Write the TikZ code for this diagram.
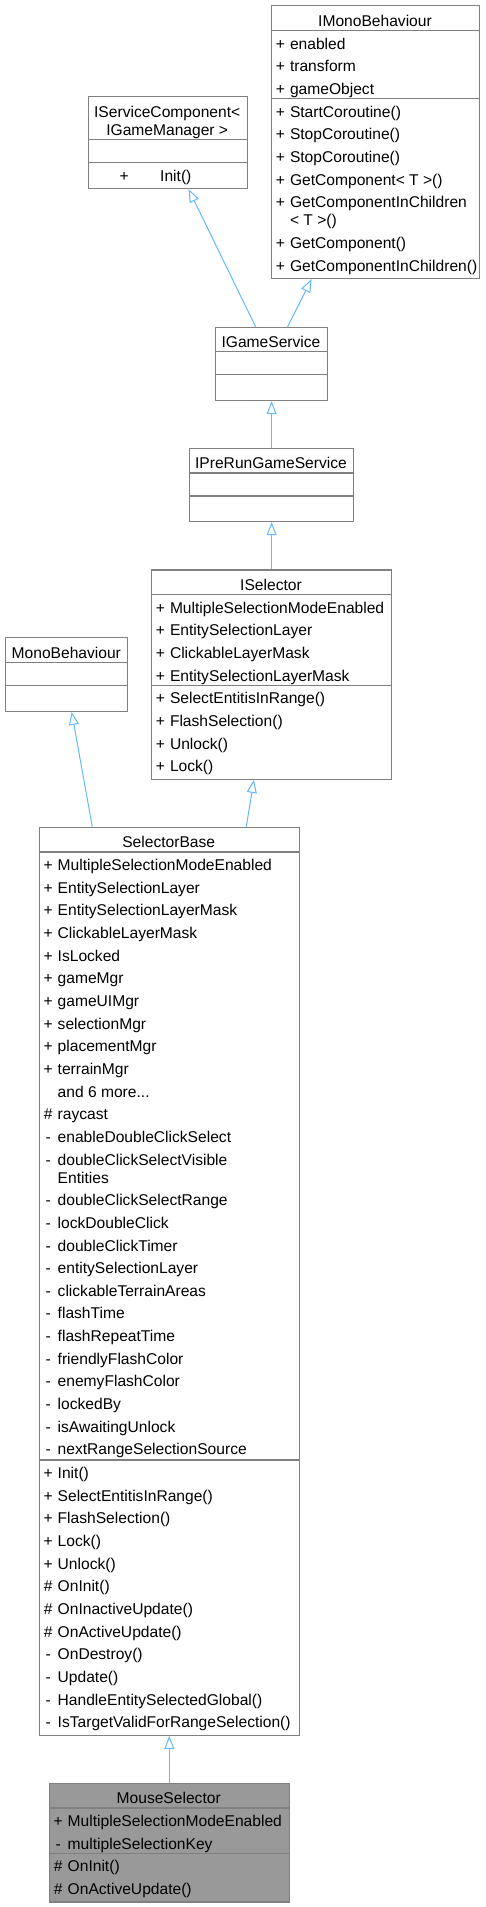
\documentclass[tikz,border=0pt]{standalone}
\usepackage{fontspec}
\setmainfont{Liberation Sans}
\usetikzlibrary{arrows.meta}
\definecolor{bordergray}{HTML}{808080}
\definecolor{edgeblue}{HTML}{63B8FF}
\definecolor{focusgray}{HTML}{999999}
\newcommand\fs{\fontsize{15.6}{18}\selectfont}
\newcommand\by[2]{#1+18.6+22.65*#2}
\newcommand\rw[5]{\node[pf] (#1p) at (#2+9.5,#3) {#4};\node[lb] (#1) at (#2+18.8,#3) {#5};}
\newcommand\rn[4]{\node[lb] (#1) at (#2+18.8,#3) {#4};}
\begin{document}
\begin{tikzpicture}[x=1pt,y=-1pt,
  box/.style={draw=bordergray, line width=1.2pt, rectangle, inner sep=0pt, anchor=north west},
  sepl/.style={draw=bordergray, line width=1.2pt},
  lb/.style={inner sep=0pt, anchor=base west, font=\fs},
  pf/.style={inner sep=0pt, anchor=base, font=\fs},
  ttl/.style={inner sep=0pt, anchor=base, font=\fs},
  inh/.style={draw=edgeblue, line width=1pt, -{Triangle[open, length=13pt, width=10pt]}}]
\useasboundingbox (0,0) rectangle (485,1907);

% ---------- IServiceComponent ----------
\node[box, minimum width=159pt, minimum height=92pt] (isc) at (87.7,96) {};
\draw[sepl] (87.7,139.7) -- (246.7,139.7);
\draw[sepl] (87.7,162.7) -- (246.7,162.7);
\node[ttl] (isc-t1) at (167.2,117.3) {IServiceComponent<};
\node[ttl] (isc-t2) at (167.2,135) {IGameManager >};
\node[pf] (isc-m1p) at (124.3,181.7) {+};
\node[lb] (isc-m1) at (160,181.7) {Init()};

% ---------- IMonoBehaviour ----------
\node[box, minimum width=208pt, minimum height=273pt] (imb) at (271,5) {};
\draw[sepl] (271,30.7) -- (479,30.7);
\draw[sepl] (271,98.7) -- (479,98.7);
\node[ttl] (imb-t) at (375,26.5) {IMonoBehaviour};
\rw{imb-a1}{271}{\by{30.7}{0}}{+}{enabled}
\rw{imb-a2}{271}{\by{30.7}{1}}{+}{transform}
\rw{imb-a3}{271}{\by{30.7}{2}}{+}{gameObject}
\rw{imb-m1}{271}{\by{98.7}{0}}{+}{StartCoroutine()}
\rw{imb-m2}{271}{\by{98.7}{1}}{+}{StopCoroutine()}
\rw{imb-m3}{271}{\by{98.7}{2}}{+}{StopCoroutine()}
\rw{imb-m4}{271}{\by{98.7}{3}}{+}{GetComponent< T >()}
\rw{imb-m5}{271}{\by{98.7}{4}}{+}{GetComponentInChildren}
\rn{imb-m5b}{271}{\by{98.7}{4}+18}{< T >()}
\rw{imb-m6}{271}{\by{98.7}{5}+18}{+}{GetComponent()}
\rw{imb-m7}{271}{\by{98.7}{6}+18}{+}{GetComponentInChildren()}

% ---------- IGameService ----------
\node[box, minimum width=112pt, minimum height=73.3pt] (igs) at (215,326.7) {};
\draw[sepl] (215,351.7) -- (327,351.7);
\draw[sepl] (215,374.7) -- (327,374.7);
\node[ttl] (igs-t) at (271,347.4) {IGameService};

% ---------- IPreRunGameService ----------
\node[box, minimum width=164pt, minimum height=73.3pt] (iprgs) at (189,447.7) {};
\draw[sepl] (189,473) -- (353,473);
\draw[sepl] (189,496) -- (353,496);
\node[ttl] (iprgs-t) at (271,468.7) {IPreRunGameService};

% ---------- ISelector ----------
\node[box, minimum width=240pt, minimum height=209.4pt] (isel) at (151,569.3) {};
\draw[sepl] (151,594.7) -- (391,594.7);
\draw[sepl] (151,685.3) -- (391,685.3);
\node[ttl] (isel-t) at (271,590.4) {ISelector};
\rw{isel-a1}{151}{\by{594.7}{0}}{+}{MultipleSelectionModeEnabled}
\rw{isel-a2}{151}{\by{594.7}{1}}{+}{EntitySelectionLayer}
\rw{isel-a3}{151}{\by{594.7}{2}}{+}{ClickableLayerMask}
\rw{isel-a4}{151}{\by{594.7}{3}}{+}{EntitySelectionLayerMask}
\rw{isel-m1}{151}{\by{685.3}{0}}{+}{SelectEntitisInRange()}
\rw{isel-m2}{151}{\by{685.3}{1}}{+}{FlashSelection()}
\rw{isel-m3}{151}{\by{685.3}{2}}{+}{Unlock()}
\rw{isel-m4}{151}{\by{685.3}{3}}{+}{Lock()}

% ---------- MonoBehaviour ----------
\node[box, minimum width=121.7pt, minimum height=73.7pt] (mb) at (5,637) {};
\draw[sepl] (5,662.3) -- (126.7,662.3);
\draw[sepl] (5,685.3) -- (126.7,685.3);
\node[ttl] (mb-t) at (66.3,658) {MonoBehaviour};

% ---------- SelectorBase ----------
\node[box, minimum width=260pt, minimum height=908pt] (sb) at (38.7,826.7) {};
\draw[sepl] (38.7,852) -- (298.7,852);
\draw[sepl] (38.7,1460) -- (298.7,1460);
\node[ttl] (sb-t) at (168.7,847.7) {SelectorBase};
\rw{sb-a0}{38.7}{\by{852}{0}}{+}{MultipleSelectionModeEnabled}
\rw{sb-a1}{38.7}{\by{852}{1}}{+}{EntitySelectionLayer}
\rw{sb-a2}{38.7}{\by{852}{2}}{+}{EntitySelectionLayerMask}
\rw{sb-a3}{38.7}{\by{852}{3}}{+}{ClickableLayerMask}
\rw{sb-a4}{38.7}{\by{852}{4}}{+}{IsLocked}
\rw{sb-a5}{38.7}{\by{852}{5}}{+}{gameMgr}
\rw{sb-a6}{38.7}{\by{852}{6}}{+}{gameUIMgr}
\rw{sb-a7}{38.7}{\by{852}{7}}{+}{selectionMgr}
\rw{sb-a8}{38.7}{\by{852}{8}}{+}{placementMgr}
\rw{sb-a9}{38.7}{\by{852}{9}}{+}{terrainMgr}
\rn{sb-a10}{38.7}{\by{852}{10}}{and 6 more...}
\rw{sb-a11}{38.7}{\by{852}{11}}{\#}{raycast}
\rw{sb-a12}{38.7}{\by{852}{12}}{-}{enableDoubleClickSelect}
\rw{sb-a13}{38.7}{\by{852}{13}}{-}{doubleClickSelectVisible}
\rn{sb-a13b}{38.7}{\by{852}{13}+18}{Entities}
\rw{sb-a14}{38.7}{\by{852}{14}+18}{-}{doubleClickSelectRange}
\rw{sb-a15}{38.7}{\by{852}{15}+18}{-}{lockDoubleClick}
\rw{sb-a16}{38.7}{\by{852}{16}+18}{-}{doubleClickTimer}
\rw{sb-a17}{38.7}{\by{852}{17}+18}{-}{entitySelectionLayer}
\rw{sb-a18}{38.7}{\by{852}{18}+18}{-}{clickableTerrainAreas}
\rw{sb-a19}{38.7}{\by{852}{19}+18}{-}{flashTime}
\rw{sb-a20}{38.7}{\by{852}{20}+18}{-}{flashRepeatTime}
\rw{sb-a21}{38.7}{\by{852}{21}+18}{-}{friendlyFlashColor}
\rw{sb-a22}{38.7}{\by{852}{22}+18}{-}{enemyFlashColor}
\rw{sb-a23}{38.7}{\by{852}{23}+18}{-}{lockedBy}
\rw{sb-a24}{38.7}{\by{852}{24}+18}{-}{isAwaitingUnlock}
\rw{sb-a25}{38.7}{\by{852}{25}+18}{-}{nextRangeSelectionSource}
\rw{sb-m0}{38.7}{\by{1460}{0}}{+}{Init()}
\rw{sb-m1}{38.7}{\by{1460}{1}}{+}{SelectEntitisInRange()}
\rw{sb-m2}{38.7}{\by{1460}{2}}{+}{FlashSelection()}
\rw{sb-m3}{38.7}{\by{1460}{3}}{+}{Lock()}
\rw{sb-m4}{38.7}{\by{1460}{4}}{+}{Unlock()}
\rw{sb-m5}{38.7}{\by{1460}{5}}{\#}{OnInit()}
\rw{sb-m6}{38.7}{\by{1460}{6}}{\#}{OnInactiveUpdate()}
\rw{sb-m7}{38.7}{\by{1460}{7}}{\#}{OnActiveUpdate()}
\rw{sb-m8}{38.7}{\by{1460}{8}}{-}{OnDestroy()}
\rw{sb-m9}{38.7}{\by{1460}{9}}{-}{Update()}
\rw{sb-m10}{38.7}{\by{1460}{10}}{-}{HandleEntitySelectedGlobal()}
\rw{sb-m11}{38.7}{\by{1460}{11}}{-}{IsTargetValidForRangeSelection()}

% ---------- MouseSelector ----------
\node[box, fill=focusgray, minimum width=240pt, minimum height=118.6pt] (ms) at (48.7,1782.7) {};
\draw[sepl] (48.7,1808) -- (288.7,1808);
\draw[sepl] (48.7,1853.3) -- (288.7,1853.3);
\node[ttl] (ms-t) at (168.7,1803.7) {MouseSelector};
\rw{ms-a1}{48.7}{\by{1808}{0}}{+}{MultipleSelectionModeEnabled}
\rw{ms-a2}{48.7}{\by{1808}{1}}{-}{multipleSelectionKey}
\rw{ms-m1}{48.7}{\by{1853.3}{0}}{\#}{OnInit()}
\rw{ms-m2}{48.7}{\by{1853.3}{1}}{\#}{OnActiveUpdate()}

% ---------- inheritance ----------
\draw[inh] ([xshift=-16pt]igs.north) -- ([xshift=20.8pt]isc.south);
\draw[inh] ([xshift=16pt]igs.north) -- ([xshift=-64pt]imb.south);
\draw[inh] (iprgs.north) -- (igs.south);
\draw[inh] (isel.north) -- (iprgs.south);
\draw[inh] ([xshift=-77pt]sb.north) -- ([xshift=5.2pt]mb.south);
\draw[inh] ([xshift=77pt]sb.north) -- ([xshift=-17.7pt]isel.south);
\draw[inh] (ms.north) -- (sb.south);
\end{tikzpicture}
\end{document}
